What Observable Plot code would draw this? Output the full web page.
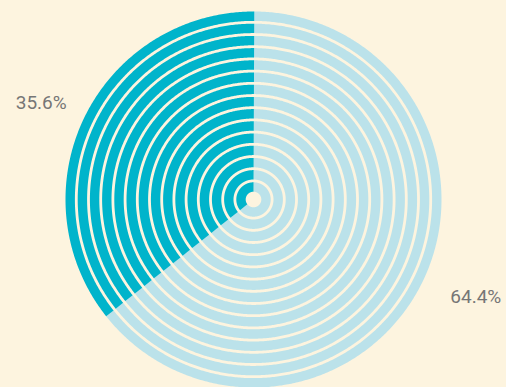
<!DOCTYPE html>
<html>
<head>
<meta charset="utf-8">
<script src="https://cdn.jsdelivr.net/npm/d3@7"></script>
<script src="https://cdn.jsdelivr.net/npm/@observablehq/plot@0.6"></script>
<style>
  html, body { margin: 0; padding: 0; background: #fdf4df; }
  #chart svg { display: block; }
</style>
</head>
<body>
<div id="chart"></div>
<script>
// Data
const categories = ["Part A", "Part B"];
const values = [64.4, 35.6];
const labels = ["64.4%", "35.6%"];

// Styling / geometry constants
const colors = ["#bbe2ea", "#00b4cb"];
const bg = "#fdf4df";
const W = 506, H = 387;
const outerR = 188, pitch = 12.2, band = 9.4, rings = 15;
const labelR = 236;

const total = d3.sum(values);
let acc = 0;
const slices = values.map((v, i) => {
  const a0 = acc / total * 2 * Math.PI;
  acc += v;
  const a1 = acc / total * 2 * Math.PI;
  return {cat: categories[i], label: labels[i], a0, a1, mid: (a0 + a1) / 2, i};
});

const polys = [];
slices.forEach(s => {
  for (let k = 0; k < rings; k++) {
    const ro = outerR - k * pitch;
    const ri = ro - band;
    const id = s.cat + "-" + k;
    const n = Math.max(8, Math.ceil((s.a1 - s.a0) / (Math.PI / 360)));
    const ext = s.i === 1 ? 0.004 : 0; // tiny overlap to hide seams
    for (let j = 0; j <= n; j++) {
      const t = s.a0 - ext + (s.a1 - s.a0 + 2 * ext) * j / n;
      polys.push({id, cat: s.cat, x: ro * Math.sin(t), y: ro * Math.cos(t)});
    }
    for (let j = n; j >= 0; j--) {
      const t = s.a0 - ext + (s.a1 - s.a0 + 2 * ext) * j / n;
      polys.push({id, cat: s.cat, x: ri * Math.sin(t), y: ri * Math.cos(t)});
    }
  }
});

const labelData = slices.map(s => ({
  label: s.label, i: s.i,
  x: labelR * Math.sin(s.mid), y: labelR * Math.cos(s.mid)
}));

const chart = Plot.plot({
  width: W, height: H, margin: 0,
  x: {domain: [-253, 253], axis: null},
  y: {domain: [-188, 199], axis: null},
  color: {domain: categories, range: colors},
  style: {background: bg, overflow: "visible"},
  marks: [
    Plot.line(polys, {x: "x", y: "y", z: "id", fill: "cat", stroke: "none", curve: "linear-closed"}),
    Plot.text(labelData.filter(d => d.i === 0), {x: "x", y: "y", text: "label", dx: 10, dy: -6,
      fill: "#767676", fontSize: 19, fontFamily: "Roboto", letterSpacing: 1}),
    Plot.text(labelData.filter(d => d.i === 1), {x: "x", y: "y", text: "label", dx: 0, dy: 7,
      fill: "#767676", fontSize: 19, fontFamily: "Roboto", letterSpacing: 1})
  ]
});
document.getElementById("chart").appendChild(chart);
</script>
</body>
</html>
